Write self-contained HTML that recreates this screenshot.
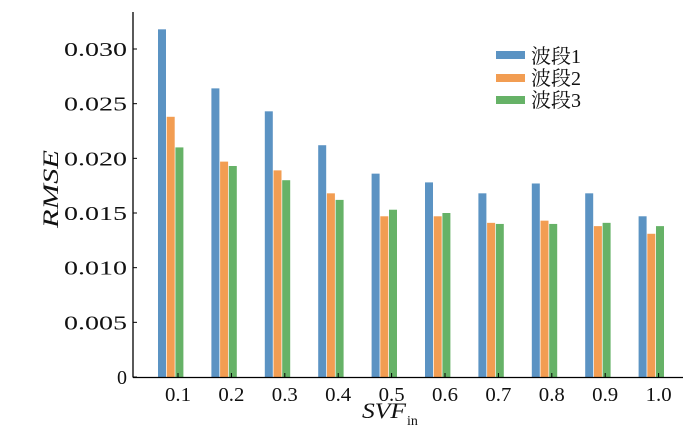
<!DOCTYPE html><html><head><meta charset="utf-8"><style>body{margin:0;background:#fff}svg{display:block}text{font-family:"Liberation Serif","Noto Serif CJK SC",serif;fill:#111}</style></head><body>
<svg width="700" height="432" xmlns="http://www.w3.org/2000/svg">
<g id="bars"></g>
<line x1="133" y1="12" x2="133" y2="377.5" stroke="#000" stroke-width="1.3"/>
<line x1="133" y1="377.5" x2="683" y2="377.5" stroke="#000" stroke-width="1.3"/>
<g font-size="20" text-anchor="end" id="yt"></g>
<g font-size="20" text-anchor="middle" id="xt"></g>
<text x="58" y="189" font-size="22" font-style="italic" text-anchor="middle" textLength="78" lengthAdjust="spacingAndGlyphs" transform="rotate(-90 58 189)">RMSE</text>
<text x="362" y="418" font-size="22" font-style="italic" textLength="44" lengthAdjust="spacingAndGlyphs">SVF</text><text x="407" y="425" font-size="14">in</text>
<rect x="496" y="51" width="29" height="8" fill="#5b93c3"/><text x="531" y="63" font-size="20">波段1</text>
<rect x="496" y="74" width="29" height="8" fill="#f29d52"/><text x="531" y="85" font-size="20">波段2</text>
<rect x="496" y="96" width="29" height="8" fill="#66b267"/><text x="531" y="107" font-size="20">波段3</text>
</svg>
<script>
var b=[.0318,.0264,.0243,.0212,.0186,.0178,.0168,.0177,.0168,.0147],o=[.0238,.0197,.0189,.0168,.0147,.0147,.0141,.0143,.0138,.0131],g=[.0210,.0193,.0180,.0162,.0153,.0150,.0140,.0140,.0141,.0138];
var ns="http://www.w3.org/2000/svg";function y(v){return 377-v*10933}
var B=document.getElementById("bars"),X=document.getElementById("xt"),Y=document.getElementById("yt");
function el(p,t,a,s){var e=document.createElementNS(ns,t);for(var k in a)e.setAttribute(k,a[k]);if(s)e.textContent=s;p.appendChild(e)}
for(var i=0;i<10;i++){var t=178+i*53.4;[[b,"#5b93c3"],[o,"#f29d52"],[g,"#66b267"]].forEach(function(s,j){el(B,"rect",{x:t-20+j*8.7,y:y(s[0][i]),width:8,height:377-y(s[0][i]),fill:s[1]})});
el(B,"line",{x1:t,x2:t,y1:377,y2:373,stroke:"#000"});el(X,"text",{x:t,y:401,textLength:26,lengthAdjust:"spacingAndGlyphs"},(i==9?"1.0":"0."+(i+1)))}
for(var k=0;k<=6;k++){var yy=y(k*.005);el(B,"line",{x1:133,x2:137,y1:yy,y2:yy,stroke:"#000"});var a={x:127,y:yy+7};if(k){a.textLength=63;a.lengthAdjust="spacingAndGlyphs"}el(Y,"text",a,k?(k*.005).toFixed(3):"0")}
</script></body></html>
